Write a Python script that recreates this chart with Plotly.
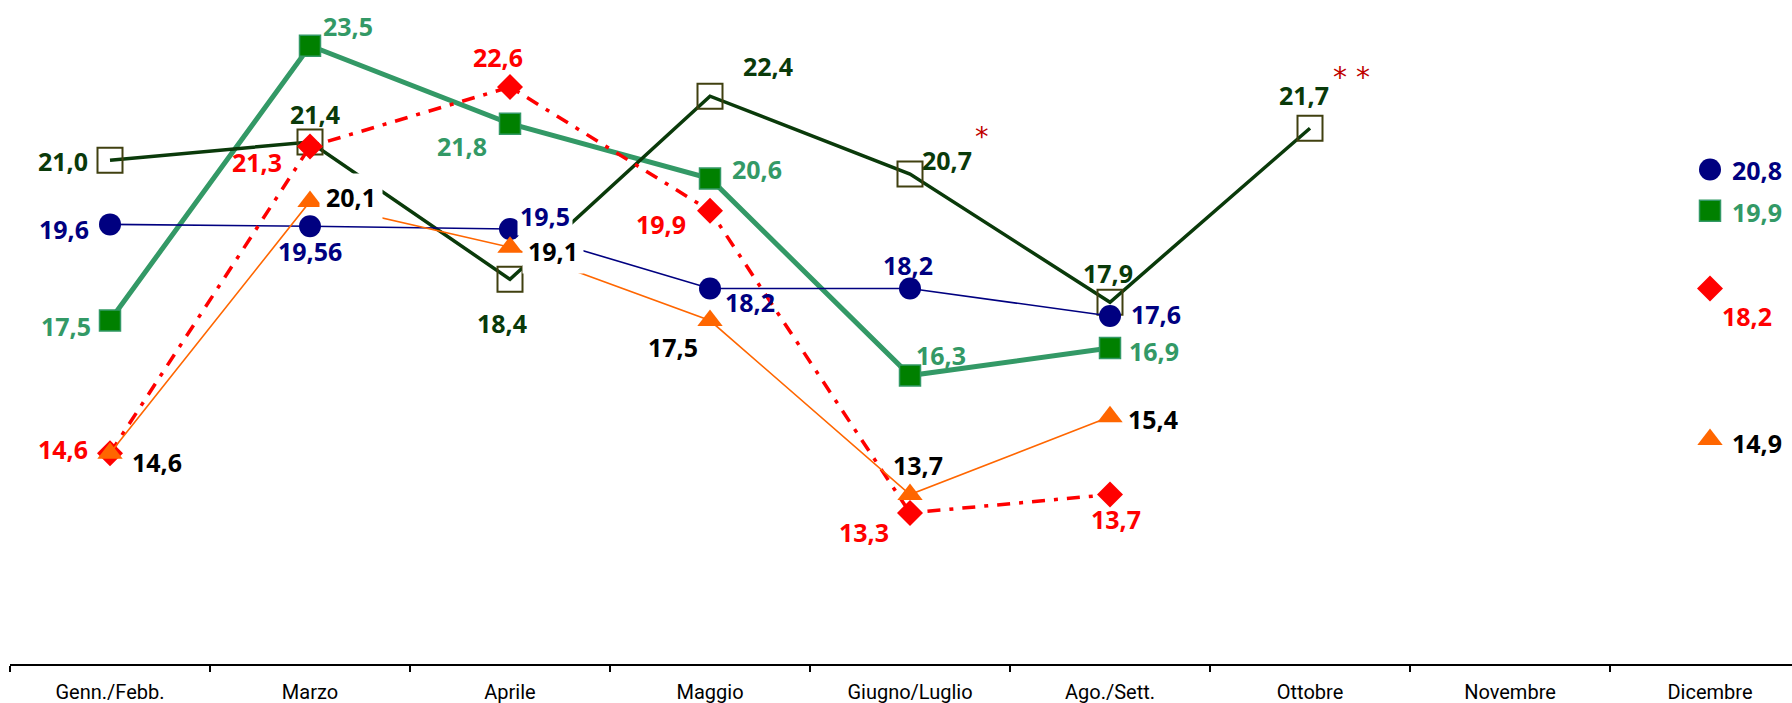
import plotly.graph_objects as go

categories = ["Genn./Febb.", "Marzo", "Aprile", "Maggio", "Giugno/Luglio",
              "Ago./Sett.", "Ottobre", "Novembre", "Dicembre"]

dkgreen_vals = [21.0, 21.4, 18.4, 22.4, 20.7, 17.9, 21.7, None, None]
green_vals = [17.5, 23.5, 21.8, 20.6, 16.3, 16.9, None, None, 19.9]
blue_vals = [19.6, 19.56, 19.5, 18.2, 18.2, 17.6, None, None, 20.8]
red_vals = [14.6, 21.3, 22.6, 19.9, 13.3, 13.7, None, None, 18.2]
orange_vals = [14.6, 20.1, 19.1, 17.5, 13.7, 15.4, None, None, 14.9]

# label offsets in px (dx right, dy down) -- styling only
dkgreen_off = {0: (-47, 1), 1: (5, -28), 2: (-8, 44), 3: (58, -30), 4: (37, -14), 5: (-2, -29), 6: (-6, -33)}
green_off = {0: (-44, 5), 1: (38, -20), 2: (-48, 22), 3: (47, -10), 4: (31, -21), 5: (44, 3), 8: (47, 1)}
blue_off = {0: (-46, 5), 1: (0, 25), 2: (35, -13), 3: (40, 13), 4: (-2, -24), 5: (46, -2), 8: (47, 1)}
red_off = {0: (-47, -4), 1: (-53, 15), 2: (-12, -30), 3: (-49, 13), 4: (-46, 19), 5: (6, 24), 8: (37, 27)}
orange_off = {0: (47, 9), 1: (41, -4), 2: (43, 4), 3: (-37, 26), 4: (8, -30), 5: (43, 2), 8: (47, 3)}

# labels drawn on an opaque white box (pad in px)
bg_labels = {("blue", 2): 2, ("orange", 1): 6, ("orange", 2): 5}


def fmt(v):
    s = f"{v:.1f}" if abs(round(v, 1) - v) < 1e-9 else f"{v:.2f}"
    return s.replace(".", ",")


LABEL_FONT = "Noto Sans"
LABEL_SIZE = 25

fig = go.Figure()

series = [
    ("green", green_vals, dict(color="#339966", width=5),
     dict(symbol="square", size=21, color="#008000", line=dict(color="#339966", width=1.5)), "#339966", green_off),
    ("dkgreen", dkgreen_vals, dict(color="#0A3A0A", width=3.5),
     dict(symbol="square-open", size=25, color="#404010", line=dict(width=2)), "#0A3A0A", dkgreen_off),
    ("blue", blue_vals, dict(color="#000080", width=1.6),
     dict(symbol="circle", size=22, color="#000080"), "#000080", blue_off),
    ("red", red_vals, dict(color="#FF0000", width=3.5, dash="13px,9px,4px,9px"),
     dict(symbol="diamond", size=20, color="#FF0000"), "#FF0000", red_off),
    ("orange", orange_vals, dict(color="#FF6600", width=1.6),
     dict(symbol="triangle-up", size=22, color="#FF6600"), "#000000", orange_off),
]

annotations = []
for name, vals, line, marker, lblcolor, offs in series:
    fig.add_trace(go.Scatter(x=categories, y=vals, mode="lines+markers", name=name,
                             line=line, marker=marker, connectgaps=False,
                             showlegend=False, hoverinfo="skip", cliponaxis=False))
    for i, v in enumerate(vals):
        if v is None:
            continue
        dx, dy = offs[i]
        a = dict(x=categories[i], y=v, xref="x", yref="y", text=fmt(v), showarrow=False,
                 xanchor="center", yanchor="middle", xshift=dx, yshift=-dy,
                 font=dict(family=LABEL_FONT, size=LABEL_SIZE, color=lblcolor, weight="bold"))
        if (name, i) in bg_labels:
            a["bgcolor"] = "white"
            a["borderpad"] = bg_labels[(name, i)]
        annotations.append(a)

# asterisks
annotations.append(dict(x=categories[4], y=dkgreen_vals[4], xref="x", yref="y", text="*", showarrow=False,
                        xanchor="center", yanchor="middle", xshift=72, yshift=38,
                        font=dict(family="DejaVu Sans", size=27, color="#C00000")))
annotations.append(dict(x=categories[6], y=dkgreen_vals[6], xref="x", yref="y", text="* *", showarrow=False,
                        xanchor="center", yanchor="middle", xshift=41, yshift=51,
                        font=dict(family="DejaVu Sans", size=28, color="#C00000")))

fig.update_layout(
    width=1792, height=703,
    margin=dict(l=10, r=0, t=0, b=39),
    paper_bgcolor="white", plot_bgcolor="white",
    annotations=annotations,
    xaxis=dict(type="category", categoryorder="array", categoryarray=categories,
               range=[-0.5, 8.41], showgrid=False, zeroline=False,
               showline=True, linecolor="black", linewidth=2,
               ticks="outside", tickson="boundaries", ticklen=6, tickcolor="black", tickwidth=1.5,
               tickfont=dict(family="Roboto", size=20, color="black"), ticklabelstandoff=9),
    yaxis=dict(range=[10, 24.5], visible=False, showgrid=False, zeroline=False),
)

fig.write_html("out.html", config={"displayModeBar": False},
               post_script="document.body.style.margin='0';")
